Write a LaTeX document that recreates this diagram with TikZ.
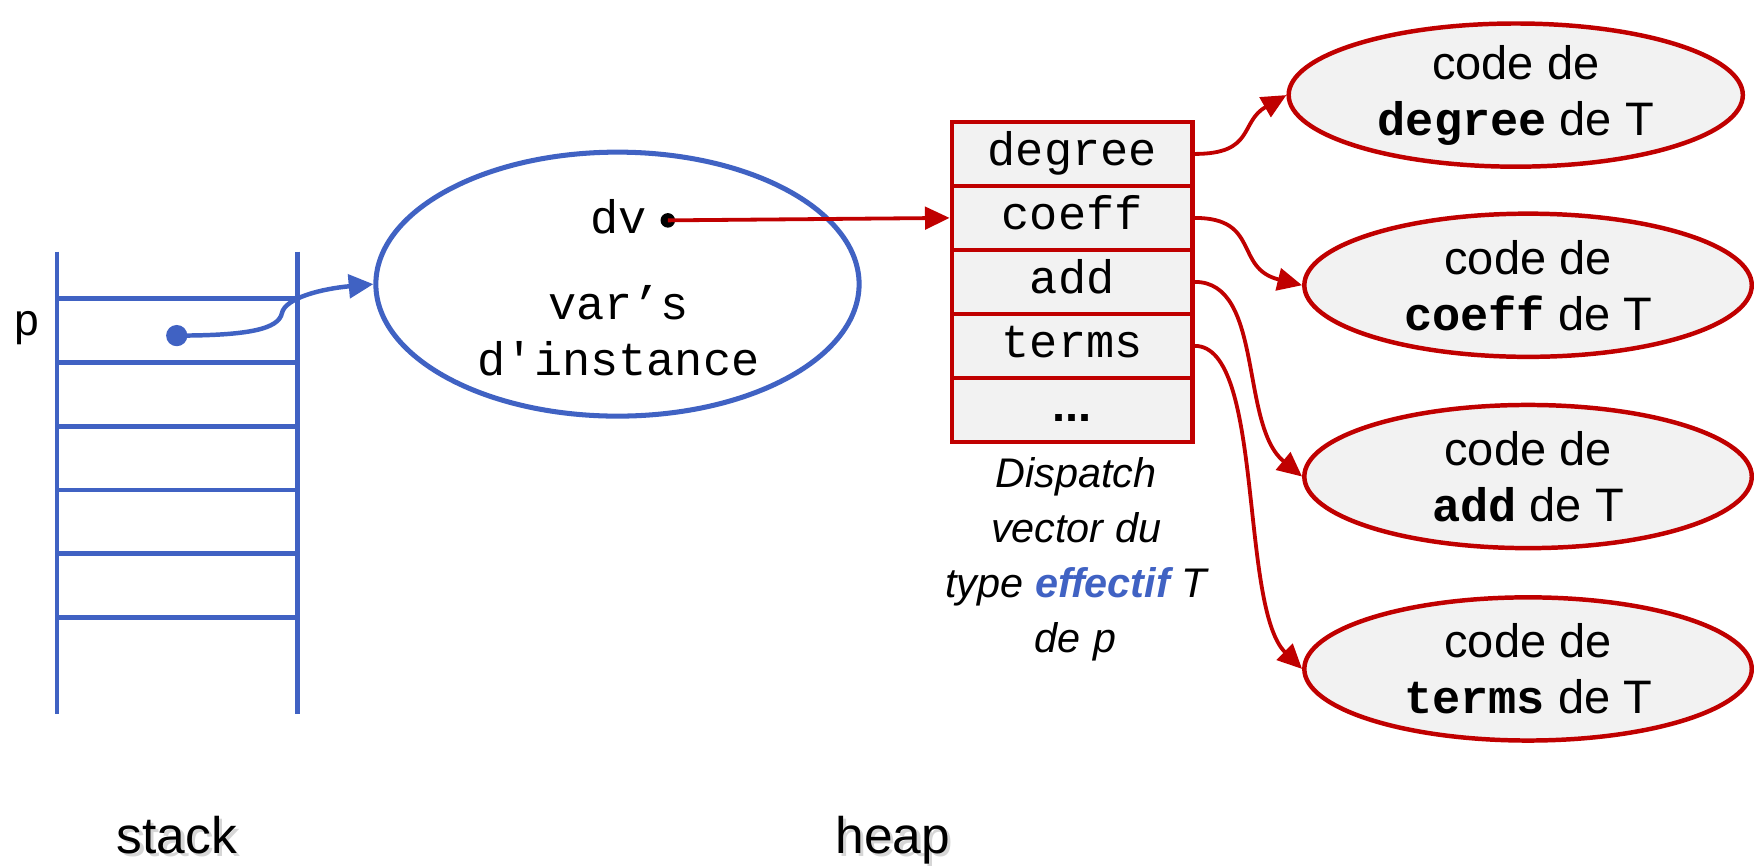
\documentclass[tikz,border=0pt]{standalone}
\usepackage{fontspec}
\setmainfont{Liberation Sans}
\setsansfont{Liberation Sans}
\setmonofont{Liberation Mono}
\usetikzlibrary{shapes.geometric,arrows.meta}
\definecolor{stackblue}{HTML}{4062C3}
\definecolor{vecred}{HTML}{C00000}
\definecolor{cellgray}{HTML}{F2F2F2}

\begin{document}
\begin{tikzpicture}[x=1pt,y=-1pt,
  bluepen/.style={draw=stackblue,line width=4.2pt},
  bluearrow/.style={stackblue,line width=4pt,-{Triangle[length=22pt,width=21pt]}},
  redarrow/.style={vecred,line width=3.4pt,-{Triangle[length=22pt,width=20pt]}},
  cell/.style={rectangle,draw=vecred,line width=4.2pt,fill=cellgray,
    minimum width=215pt,minimum height=57.2pt,inner sep=0pt,
    text height=30pt,text depth=9pt,
    font=\fontsize{42}{50}\selectfont\ttfamily},
  codebox/.style={ellipse,draw=vecred,line width=4pt,fill=cellgray,
    minimum width=400pt,minimum height=128pt,inner sep=0pt,align=center,
    font=\fontsize{42}{50}\selectfont\sffamily},
  monolabel/.style={font=\fontsize{42}{50}\selectfont\ttfamily},
  biglabel/.style={font=\fontsize{46}{50}\selectfont\sffamily,anchor=base},
  labelshadow/.style={biglabel,text=black,opacity=0.16},
]
\useasboundingbox (0,0) rectangle (1568,774);

% ---- stack ----
\draw[bluepen] (51,225) -- (51,638);
\draw[bluepen] (266,225) -- (266,638);
\foreach \y in {267,324,381,438,495,552}
  \draw[bluepen] (51,\y) -- (266,\y);
\node[font=\fontsize{40}{44}\selectfont\ttfamily,anchor=base] (plabel) at (24,300) {p};
\node[circle,fill=stackblue,inner sep=0pt,minimum size=19pt] (pdot) at (158,300) {};

% ---- object on the heap ----
\node[ellipse,draw=stackblue,line width=4.5pt,minimum width=432pt,
  minimum height=236pt,inner sep=0pt] (inst) at (552,254) {};
\node[monolabel] (dvlabel) at (553,194) {dv};
\node[circle,fill=black,inner sep=0pt,minimum size=13pt] (dvdot) at (597,197) {};
\node[monolabel,align=center] (vars) at (553,296) {var’s\\d'instance};

\coordinate (knee) at (252,280);
\draw[bluearrow] (pdot.center) .. controls +(65,0) and +(-3,14) .. (knee)
  .. controls +(3,-14) and +(-45,4) .. (inst.west);

% ---- dispatch vector ----
\node[cell] (deg) at (958.5,137.6) {degree};
\node[cell] (coe) at (958.5,194.8) {coeff};
\node[cell] (add) at (958.5,252.0) {add};
\node[cell] (ter) at (958.5,309.2) {terms};
\node[cell,font=\fontsize{42}{50}\selectfont\sffamily\bfseries] (dots) at (958.5,366.4) {...};

\draw[redarrow] (dvdot.center) -- (coe.west);

\node[font=\fontsize{37}{49}\selectfont\sffamily\itshape,align=center] (caption) at (962,500)
  {Dispatch\\vector du\\type {\bfseries\color{stackblue}effectif} T\\de {\ttfamily p}};

% ---- method code ----
\node[codebox,minimum width=406pt] (c1) at (1355,85) {code de\\{\ttfamily\bfseries degree} de T};
\node[codebox] (c2) at (1366,255) {code de\\{\ttfamily\bfseries coeff} de T};
\node[codebox] (c3) at (1366,426) {code de\\{\ttfamily\bfseries add} de T};
\node[codebox] (c4) at (1366,598) {code de\\{\ttfamily\bfseries terms} de T};

\draw[redarrow] (deg.east) .. controls +(54,0) and +(-42,24) .. (c1.west);
\draw[redarrow] (coe.east) .. controls +(59,0) and +(-61,-15) .. (c2.west);
\draw[redarrow] (add.east) .. controls +(62,0) and +(-56,-46) .. (c3.west);
\draw[redarrow] (ter.east) .. controls +(62,0) and +(-56,-55) .. (c4.west);

% ---- region labels with soft shadow ----
\node[labelshadow] at (161,766) {stack};
\node[labelshadow] at (801,766) {heap};
\node[biglabel] (stacklbl) at (158,763) {stack};
\node[biglabel] (heaplbl) at (798,763) {heap};
\end{tikzpicture}
\end{document}
